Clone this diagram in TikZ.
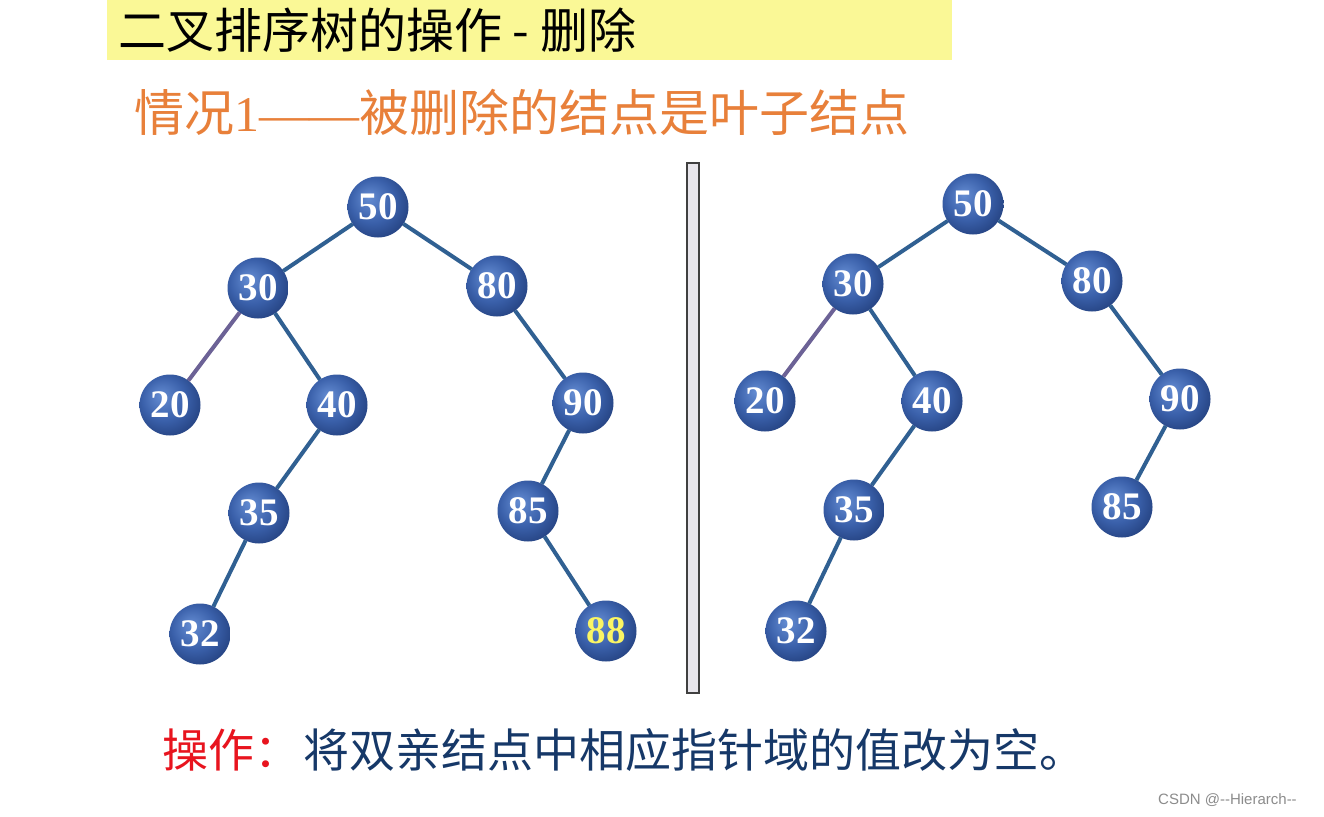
\documentclass[tikz,border=0pt]{standalone}
\usepackage{fontspec}
\setmainfont{Liberation Serif}
\newfontfamily\cjk{Noto Sans CJK SC}
\newfontfamily\sans{Liberation Sans}
\definecolor{ballA}{RGB}{100,140,210}
\definecolor{ballB}{RGB}{58,96,170}
\definecolor{ballC}{RGB}{28,54,112}
\definecolor{edgeC}{RGB}{48,96,146}
\definecolor{edgeP}{RGB}{108,98,150}
\definecolor{titleY}{RGB}{250,248,150}
\definecolor{subO}{RGB}{232,128,58}
\definecolor{opR}{RGB}{232,20,30}
\definecolor{opB}{RGB}{22,56,104}
\definecolor{divF}{RGB}{232,230,236}
\pgfdeclareradialshading{sph}{\pgfpoint{-8bp}{8bp}}{color(0bp)=(ballA); color(18bp)=(ballB); color(36bp)=(ballC); color(50bp)=(ballC)}
\tikzset{
  tn/.style={circle, minimum size=61pt, inner sep=0pt, outer sep=0pt, shading=sph,
    text=white, font=\fontsize{39}{39}\selectfont\bfseries},
  hl/.style={tn, text={rgb,255:red,250;green,245;blue,100}},
  ed/.style={draw=edgeC, line width=4pt},
  edp/.style={draw=edgeP, line width=4pt}
}
\begin{document}
\begin{tikzpicture}[x=1pt,y=-1pt]
\useasboundingbox (0,0) rectangle (1324,816);
\fill[white] (0,0) rectangle (1324,816);
% title
\fill[titleY] (107,0) rectangle (952,60);
\node[anchor=west, inner sep=0pt, font=\cjk\fontsize{48}{48}\selectfont] (title) at (118,30) {二叉排序树的操作 - 删除};
\node[anchor=west, inner sep=0pt, text=subO, font=\cjk\fontsize{50}{50}\selectfont] (sub) at (134,112) {情况{\rmfamily 1——}被删除的结点是叶子结点};
% divider
\draw[fill=divF, draw=black!75, line width=1.5pt] (687,163) rectangle (699,693);
% left tree
\node[tn] (a50) at (378,207) {50};
\node[tn] (a30) at (258,288) {30};
\node[tn] (a80) at (497,286) {80};
\node[tn] (a20) at (170,405) {20};
\node[tn] (a40) at (337,405) {40};
\node[tn] (a90) at (583,403) {90};
\node[tn] (a35) at (259,513) {35};
\node[tn] (a85) at (528,511) {85};
\node[tn] (a32) at (200,634) {32};
\node[hl] (a88) at (606,631) {88};
\draw[ed] (a50) -- (a30);
\draw[ed] (a50) -- (a80);
\draw[edp] (a30) -- (a20);
\draw[ed] (a30) -- (a40);
\draw[ed] (a80) -- (a90);
\draw[ed] (a40) -- (a35);
\draw[ed] (a35) -- (a32);
\draw[ed] (a90) -- (a85);
\draw[ed] (a85) -- (a88);
% right tree
\node[tn] (b50) at (973,204) {50};
\node[tn] (b30) at (853,284) {30};
\node[tn] (b80) at (1092,281) {80};
\node[tn] (b20) at (765,401) {20};
\node[tn] (b40) at (932,401) {40};
\node[tn] (b90) at (1180,399) {90};
\node[tn] (b35) at (854,510) {35};
\node[tn] (b85) at (1122,507) {85};
\node[tn] (b32) at (796,631) {32};
\draw[ed] (b50) -- (b30);
\draw[ed] (b50) -- (b80);
\draw[edp] (b30) -- (b20);
\draw[ed] (b30) -- (b40);
\draw[ed] (b80) -- (b90);
\draw[ed] (b40) -- (b35);
\draw[ed] (b35) -- (b32);
\draw[ed] (b90) -- (b85);
% operation
\node[anchor=west, inner sep=0pt, text=opR, font=\cjk\fontsize{46}{46}\selectfont] (op) at (162,750) {操作：};
\node[anchor=west, inner sep=0pt, text=opB, font=\cjk\fontsize{46}{46}\selectfont] (opt) at (303,750) {将双亲结点中相应指针域的值改为空。};
% watermark
\node[anchor=west, inner sep=0pt, text=black!45, font=\sans\fontsize{15}{15}\selectfont] (wm) at (1158,800) {CSDN @--Hierarch--};
\end{tikzpicture}
\end{document}
